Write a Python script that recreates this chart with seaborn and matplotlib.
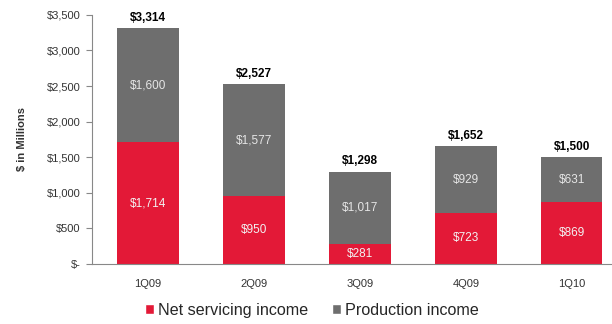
import matplotlib
matplotlib.use("Agg")
import matplotlib.pyplot as plt
import seaborn as sns
import pandas as pd
from matplotlib.patches import Patch

quarters = ["1Q09", "2Q09", "3Q09", "4Q09", "1Q10"]
net_servicing = [1714, 950, 281, 723, 869]
production = [1600, 1577, 1017, 929, 631]
totals = [3314, 2527, 1298, 1652, 1500]
yticks = [0, 500, 1000, 1500, 2000, 2500, 3000, 3500]
ytick_labels = ["$-", "$500", "$1,000", "$1,500", "$2,000", "$2,500", "$3,000", "$3,500"]

RED = "#E31937"
GRAY = "#6E6E6E"

sns.set_style("white")
plt.rcParams["font.family"] = ["Liberation Sans", "DejaVu Sans"]

fig = plt.figure(figsize=(6.12, 3.24), dpi=100)
ax = fig.add_axes([0.150, 0.185, 0.85, 0.769])

df = pd.DataFrame({"quarter": quarters, "net": net_servicing, "prod": production, "total": totals})

sns.barplot(data=df, x="quarter", y="total", color=GRAY, width=0.58, ax=ax,
            saturation=1, linewidth=0)
sns.barplot(data=df, x="quarter", y="net", color=RED, width=0.58, ax=ax,
            saturation=1, linewidth=0)

for i, (n, p, t) in enumerate(zip(net_servicing, production, totals)):
    ax.text(i, n / 2, f"${n:,}", ha="center", va="center", color="#F2F2F2", fontsize=8.5)
    ax.text(i, n + p / 2, f"${p:,}", ha="center", va="center", color="#E6E6E6", fontsize=8.5)
    ax.text(i, t + 60, f"${t:,}", ha="center", va="bottom", color="black", fontsize=8.5, fontweight="bold")

ax.set_xlim(-0.53, 4.38)
ax.set_ylim(0, 3500)
ax.set_yticks(yticks)
ax.set_yticklabels(ytick_labels, fontsize=8, color="#333333")
ax.tick_params(axis="y", which="major", left=True, length=4, width=0.8, color="#888888", pad=4)
ax.tick_params(axis="x", bottom=False, labelsize=8, labelcolor="#333333", pad=7)
ax.set_xlabel("")
ax.set_ylabel("$ in Millions", fontsize=8, fontweight="bold", color="#333333", labelpad=14)

for s in ["top", "right"]:
    ax.spines[s].set_visible(False)
for s in ["left", "bottom"]:
    ax.spines[s].set_color("#888888")
    ax.spines[s].set_linewidth(0.8)

handles = [Patch(facecolor=RED, label="Net servicing income"),
           Patch(facecolor=GRAY, label="Production income")]
fig.legend(handles=handles, loc="lower left", bbox_to_anchor=(0.213, -0.025), ncol=2,
           frameon=False, fontsize=11.6, handlelength=0.55, handleheight=0.55,
           handletextpad=0.25, columnspacing=1.5)

fig.savefig("out.png", dpi=100)
